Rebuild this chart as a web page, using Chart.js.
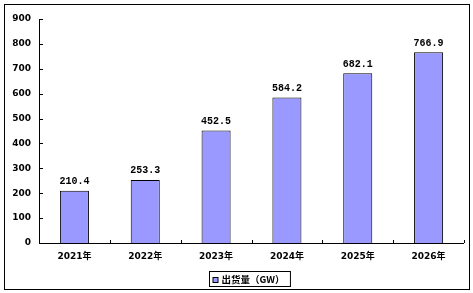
<!DOCTYPE html>
<html><head><meta charset="utf-8">
<script src="https://cdn.jsdelivr.net/npm/chart.js@4"></script>
<style>html,body{margin:0;padding:0;background:#fff}#wrap{width:473px;height:293px;position:relative}</style>
</head><body><div id="wrap"><canvas id="c" width="473" height="293"></canvas></div>
<script>
const categories = ['2021年','2022年','2023年','2024年','2025年','2026年'];
const seriesName = '出货量（GW）';
const shipments = [210.4, 253.3, 452.5, 584.2, 682.1, 766.9];
const yTicks = [0,100,200,300,400,500,600,700,800,900];

const FONT = '"DejaVu Sans", "Noto Sans CJK SC", sans-serif';
const BAR = '#9999FF';

const deco = {
  id: 'deco',
  afterDraw(chart) {
    const ctx = chart.ctx;
    const a = chart.chartArea;
    const xs = chart.scales.x, ys = chart.scales.y;
    ctx.save();
    ctx.strokeStyle = '#000'; ctx.lineWidth = 1;
    ctx.strokeRect(4.5, 4.5, 465, 285);
    ctx.beginPath();
    ctx.moveTo(Math.round(a.left)+0.5, a.top); ctx.lineTo(Math.round(a.left)+0.5, Math.round(a.bottom)+0.5);
    ctx.lineTo(a.right, Math.round(a.bottom)+0.5);
    ctx.stroke();
    ctx.beginPath();
    yTicks.forEach(v => {
      const y = Math.round(ys.getPixelForValue(v)) + 0.5;
      ctx.moveTo(Math.round(a.left), y); ctx.lineTo(Math.round(a.left) + 4, y);
    });
    const step = xs.getPixelForTick(1) - xs.getPixelForTick(0);
    for (let i = 0; i <= categories.length; i++) {
      const x = Math.round(i < categories.length ? xs.getPixelForTick(i) - step/2 : a.right) + 0.5;
      ctx.moveTo(x, Math.round(a.bottom)); ctx.lineTo(x, Math.round(a.bottom) - 3);
    }
    ctx.stroke();
    const meta = chart.getDatasetMeta(0);
    ctx.fillStyle = '#000';
    ctx.font = 'bold 10px "Liberation Mono", "DejaVu Sans Mono", monospace';
    ctx.textAlign = 'center'; ctx.textBaseline = 'bottom';
    meta.data.forEach((el, i) => {
      ctx.fillText(shipments[i].toFixed(1), el.x, el.y - 4);
    });
    ctx.font = 'bold 9.5px "Noto Sans CJK SC", sans-serif';
    ctx.textAlign = 'left'; ctx.textBaseline = 'middle';
    const tw = ctx.measureText(seriesName).width;
    const boxW = 12 + tw + 6;
    const lx = Math.round((a.left + a.right)/2 - boxW/2 - 2) + 0.5;
    const ly = 271.5;
    ctx.strokeRect(lx, ly, boxW, 15);
    ctx.fillStyle = BAR;
    ctx.fillRect(lx + 3.5, ly + 6, 5, 5);
    ctx.strokeRect(lx + 3.5, ly + 6, 5, 5);
    ctx.fillStyle = '#000';
    ctx.fillText(seriesName, lx + 12, ly + 8);
    ctx.restore();
  }
};

new Chart(document.getElementById('c'), {
  type: 'bar',
  data: {
    labels: categories,
    datasets: [{
      label: seriesName,
      data: shipments,
      backgroundColor: BAR,
      borderColor: '#000',
      borderWidth: 1,
      categoryPercentage: 0.82,
      barPercentage: 0.5
    }]
  },
  options: {
    responsive: false,
    animation: false,
    devicePixelRatio: 1,
    layout: { padding: { left: 0, top: 19, right: 9, bottom: 24 } },
    plugins: { legend: { display: false }, tooltip: { enabled: false } },
    scales: {
      x: {
        grid: { display: false, drawTicks: false, offset: true },
        border: { display: false },
        ticks: { color: '#000', font: { family: FONT, size: 9, weight: 'bold' }, padding: 8, maxRotation: 0 },
        afterFit(s) { s.height = 26; }
      },
      y: {
        min: 0, max: 900,
        grid: { display: false, drawTicks: false },
        border: { display: false },
        afterBuildTicks(s) { s.ticks = yTicks.map(v => ({ value: v })); },
        ticks: { color: '#000', font: { family: FONT, size: 9, weight: 'bold' }, padding: 8 },
        afterFit(s) { s.width = 39; }
      }
    }
  },
  plugins: [deco]
});
</script></body></html>
